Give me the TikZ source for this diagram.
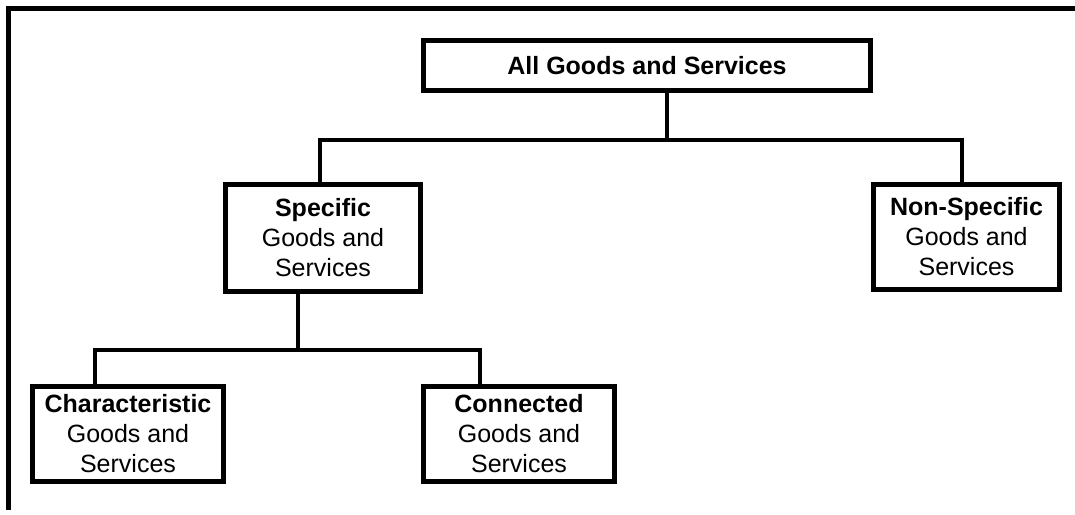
\documentclass[tikz,border=0pt]{standalone}
\usepackage{fontspec}
\setmainfont{Liberation Sans}
\begin{document}
\begin{tikzpicture}[x=1pt,y=-1pt,
  box/.style={draw, line width=5pt, rectangle, align=center, inner sep=0pt,
    font=\fontsize{25}{30}\selectfont},
  conn/.style={line width=4pt},
  frameline/.style={line width=5pt}]
\useasboundingbox (0,0) rectangle (1075,514);
\draw[frameline] (8,510) -- (8,8) -- (1075,8);
\node[box, minimum width=447pt, minimum height=50pt] (all) at (647,65.5) {\textbf{All Goods and Services}};
\node[box, minimum width=195pt, minimum height=107pt] (spec) at (323,238) {\textbf{Specific}\\Goods and\\Services};
\node[box, minimum width=186pt, minimum height=105pt] (nonspec) at (966.5,237) {\textbf{Non-Specific}\\Goods and\\Services};
\node[box, minimum width=191pt, minimum height=95pt] (char) at (128,434) {\textbf{Characteristic}\\Goods and\\Services};
\node[box, minimum width=191pt, minimum height=95pt] (conn) at (519,434) {\textbf{Connected}\\Goods and\\Services};
\coordinate (j1) at (667,140);
\coordinate (s1) at (320,140);
\coordinate (n1) at (962,140);
\coordinate (j2) at (298,350);
\coordinate (c1) at (95,350);
\coordinate (c2) at (480,350);
\draw[conn] (all.south -| j1) -- (j1);
\draw[conn] (spec.north -| s1) -- (s1) -- (n1) -- (nonspec.north -| n1);
\draw[conn] (spec.south -| j2) -- (j2);
\draw[conn] (char.north -| c1) -- (c1) -- (c2) -- (conn.north -| c2);
\end{tikzpicture}
\end{document}
